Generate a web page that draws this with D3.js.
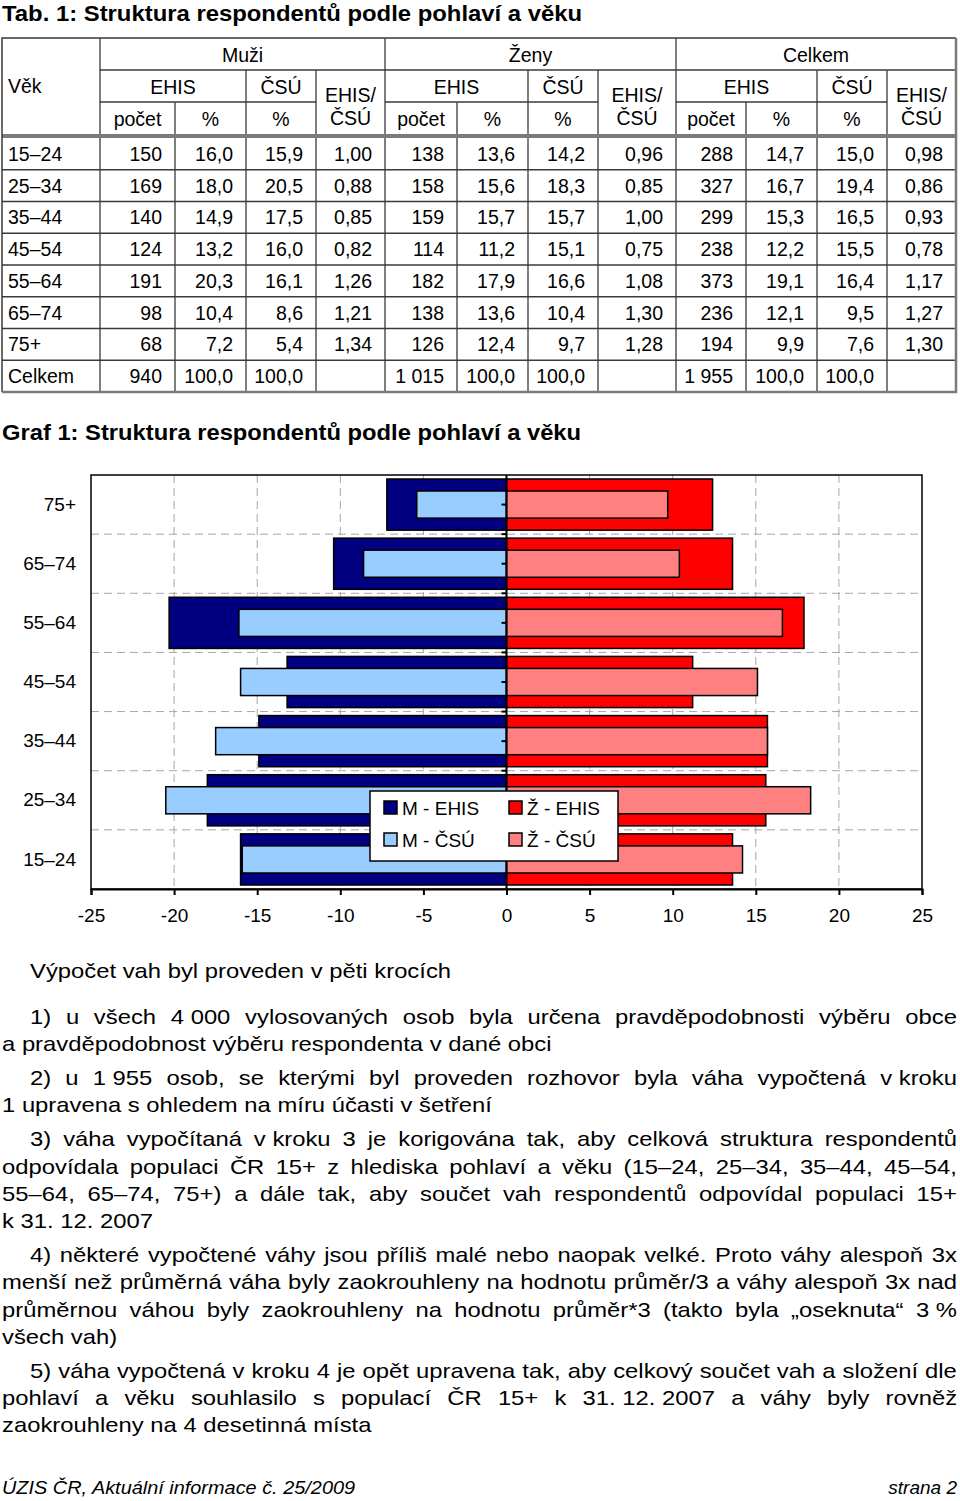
<!DOCTYPE html>
<html>
<head>
<meta charset="utf-8">
<script src="https://cdn.jsdelivr.net/npm/d3@7"></script>
<style>
body { margin: 0; background: #fff; font-family: "Liberation Sans", Arial, sans-serif; color: #000; }
#page { position: relative; width: 960px; height: 1501px; overflow: hidden; }
#page svg { position: absolute; left: 0; top: 0; }
.line { position: absolute; font-size: 21px; line-height: 28px; transform-origin: 0 0; white-space: normal; }
.full { text-align: justify; text-align-last: justify; }
.keep { display: inline-block; }
.foot { position: absolute; font-size: 19px; line-height: 22px; font-style: italic; transform-origin: 0 0; }
</style>
</head>
<body>
<div id="page"></div>
<script>
// age groups in table order
const ageGroups = ['15–24', '25–34', '35–44', '45–54', '55–64', '65–74', '75+'];

const muziPocet = [150, 169, 140, 124, 191, 98, 68];
const muziEhis = [16.0, 18.0, 14.9, 13.2, 20.3, 10.4, 7.2];
const muziCsu = [15.9, 20.5, 17.5, 16.0, 16.1, 8.6, 5.4];
const muziRatio = [1.00, 0.88, 0.85, 0.82, 1.26, 1.21, 1.34];

const zenyPocet = [138, 158, 159, 114, 182, 138, 126];
const zenyEhis = [13.6, 15.6, 15.7, 11.2, 17.9, 13.6, 12.4];
const zenyCsu = [14.2, 18.3, 15.7, 15.1, 16.6, 10.4, 9.7];
const zenyRatio = [0.96, 0.85, 1.00, 0.75, 1.08, 1.30, 1.28];

const celkemPocet = [288, 327, 299, 238, 373, 236, 194];
const celkemEhis = [14.7, 16.7, 15.3, 12.2, 19.1, 12.1, 9.9];
const celkemCsu = [15.0, 19.4, 16.5, 15.5, 16.4, 9.5, 7.6];
const celkemRatio = [0.98, 0.86, 0.93, 0.78, 1.17, 1.27, 1.30];

const totalPocet = ['940', '1 015', '1 955'];
const totalPct = '100,0';

const xTicks = [-25, -20, -15, -10, -5, 0, 5, 10, 15, 20, 25];

// "~" marks a space that must not stretch
const paragraphs = [
    ['1) u všech 4~000 vylosovaných osob byla určena pravděpodobnosti výběru obce',
     'a pravděpodobnost výběru respondenta v dané obci'],
    ['2) u 1~955 osob, se kterými byl proveden rozhovor byla váha vypočtená v~kroku',
     '1 upravena s ohledem na míru účasti v šetření'],
    ['3) váha vypočítaná v~kroku 3 je korigována tak, aby celková struktura respondentů',
     'odpovídala populaci ČR 15+ z hlediska pohlaví a věku (15–24, 25–34, 35–44, 45–54,',
     '55–64, 65–74, 75+) a dále tak, aby součet vah respondentů odpovídal populaci 15+',
     'k~31. 12. 2007'],
    ['4) některé vypočtené váhy jsou příliš malé nebo naopak velké. Proto váhy alespoň 3x',
     'menší než průměrná váha byly zaokrouhleny na hodnotu průměr/3 a váhy alespoň 3x nad',
     'průměrnou váhou byly zaokrouhleny na hodnotu průměr*3 (takto byla „oseknuta“ 3~%',
     'všech vah)'],
    ['5) váha vypočtená v kroku 4 je opět upravena tak, aby celkový součet vah a složení dle',
     'pohlaví a věku souhlasilo s populací ČR 15+ k 31.~12.~2007 a váhy byly rovněž',
     'zaokrouhleny na 4 desetinná místa']
];

const pct = v => v.toFixed(1).replace('.', ',');
const rat = v => v.toFixed(2).replace('.', ',');

const page = d3.select('#page');
const svg = page.append('svg').attr('width', 960).attr('height', 1501)
    .style('font-family', '"Liberation Sans", Arial, sans-serif');

// ---------- table ----------
svg.append('text').attr('transform', 'translate(2,21) scale(1.085,1)')
    .style('font-size', '22px').style('font-weight', 'bold')
    .text('Tab. 1: Struktura respondentů podle pohlaví a věku');

const colX = [2, 100, 175, 246, 316, 385, 457, 528, 598, 676, 746, 817, 887, 956];
const headTop = 38, head1 = 70, head2 = 102, headBottom = 136;
const rowTop = 138, rowH = 31.75;

const rows = ageGroups.map((a, i) => [a,
    muziPocet[i], pct(muziEhis[i]), pct(muziCsu[i]), rat(muziRatio[i]),
    zenyPocet[i], pct(zenyEhis[i]), pct(zenyCsu[i]), rat(zenyRatio[i]),
    celkemPocet[i], pct(celkemEhis[i]), pct(celkemCsu[i]), rat(celkemRatio[i])]);
rows.push(['Celkem',
    totalPocet[0], totalPct, totalPct, '',
    totalPocet[1], totalPct, totalPct, '',
    totalPocet[2], totalPct, totalPct, '']);

const tableBottom = rowTop + rows.length * rowH;
const tbl = svg.append('g').style('font-size', '19.5px');

// grid lines
const lines = [];
rows.forEach((r, i) => { if (i > 0) lines.push([colX[0], rowTop + i * rowH, colX[13], rowTop + i * rowH]); });
lines.push([colX[1], head1, colX[13], head1]);
[[1, 4], [5, 8], [9, 12]].forEach(([a, b]) => {
    lines.push([colX[a], head2, colX[b], head2]);
    lines.push([colX[a], headTop, colX[a], tableBottom]);
    lines.push([colX[a + 1], head2, colX[a + 1], tableBottom]);
    lines.push([colX[a + 2], head1, colX[a + 2], tableBottom]);
    lines.push([colX[a + 3], head1, colX[a + 3], tableBottom]);
});
tbl.selectAll('line.grid').data(lines).enter().append('line')
    .attr('x1', d => d[0]).attr('y1', d => d[1]).attr('x2', d => d[2]).attr('y2', d => d[3])
    .attr('stroke', '#3a3a3a').attr('stroke-width', 1.3);

tbl.append('line').attr('x1', colX[0]).attr('x2', colX[13]).attr('y1', headBottom).attr('y2', headBottom)
    .attr('stroke', '#7a7a7a').attr('stroke-width', 4);
tbl.append('path')
    .attr('d', `M${colX[0]},${tableBottom}V${headTop}H${colX[13]}`)
    .attr('fill', 'none').attr('stroke', '#3a3a3a').attr('stroke-width', 1.5);
tbl.append('path')
    .attr('d', `M${colX[13]},${headTop}V${tableBottom}H${colX[0]}`)
    .attr('fill', 'none').attr('stroke', '#7a7a7a').attr('stroke-width', 2.5);

// header texts
const mid = (a, b) => (colX[a] + colX[b]) / 2;
const head = [['Věk', 8, 93, 'start']];
[['Muži', 1], ['Ženy', 5], ['Celkem', 9]].forEach(([t, a]) => {
    head.push([t, mid(a, a + 4), 62, 'middle']);
    head.push(['EHIS', mid(a, a + 2), 94, 'middle']);
    head.push(['ČSÚ', mid(a + 2, a + 3), 94, 'middle']);
    head.push(['EHIS/', mid(a + 3, a + 4), 102, 'middle']);
    head.push(['ČSÚ', mid(a + 3, a + 4), 125, 'middle']);
    head.push(['počet', mid(a, a + 1), 126, 'middle']);
    head.push(['%', mid(a + 1, a + 2), 126, 'middle']);
    head.push(['%', mid(a + 2, a + 3), 126, 'middle']);
});
tbl.selectAll('text.head').data(head).enter().append('text')
    .attr('x', d => d[1]).attr('y', d => d[2]).attr('text-anchor', d => d[3]).text(d => d[0]);

// body cells
rows.forEach((r, i) => {
    const yb = rowTop + i * rowH + rowH / 2 + 7;
    tbl.selectAll(null).data(r).enter().append('text')
        .attr('x', (d, j) => j === 0 ? 8 : colX[j + 1] - 13)
        .attr('y', yb)
        .attr('text-anchor', (d, j) => j === 0 ? 'start' : 'end')
        .text(d => d);
});

// ---------- chart ----------
svg.append('text').attr('transform', 'translate(2,440) scale(1.08,1)')
    .style('font-size', '22px').style('font-weight', 'bold')
    .text('Graf 1: Struktura respondentů podle pohlaví a věku');

const plot = { left: 91, right: 922, top: 475, bottom: 889 };
const x = d3.scaleLinear().domain([-25, 25]).range([plot.left, plot.right]);
const cats = ageGroups.slice().reverse();
const y = d3.scaleBand().domain(cats).range([plot.top, plot.bottom]);
const yBar = d3.scaleBand().domain(cats).range([plot.top, plot.bottom])
    .paddingInner(0.135).paddingOuter(0.0675);
const thin = yBar.bandwidth() * 0.53;

const chart = svg.append('g');

// grid
chart.selectAll('line.vgrid').data(xTicks.filter(t => t !== 0 && Math.abs(t) !== 25)).enter()
    .append('line')
    .attr('x1', d => x(d)).attr('x2', d => x(d)).attr('y1', plot.top).attr('y2', plot.bottom)
    .attr('stroke', '#a6a6a6').attr('stroke-dasharray', '8,5');
chart.selectAll('line.hgrid').data(cats.slice(1)).enter().append('line')
    .attr('x1', plot.left).attr('x2', plot.right).attr('y1', d => y(d)).attr('y2', d => y(d))
    .attr('stroke', '#a6a6a6').attr('stroke-dasharray', '8,5');

const series = [
    { name: 'M - EHIS', values: muziEhis, sign: -1, color: '#000080', wide: true },
    { name: 'Ž - EHIS', values: zenyEhis, sign: 1, color: '#ff0000', wide: true },
    { name: 'M - ČSÚ', values: muziCsu, sign: -1, color: '#99ccff', wide: false },
    { name: 'Ž - ČSÚ', values: zenyCsu, sign: 1, color: '#ff8080', wide: false }
];

series.forEach(s => {
    chart.append('g').selectAll('rect')
        .data(ageGroups.map((a, i) => ({ age: a, v: s.values[i] * s.sign })))
        .enter().append('rect')
        .attr('x', d => Math.min(x(0), x(d.v)))
        .attr('width', d => Math.abs(x(d.v) - x(0)))
        .attr('y', d => s.wide ? yBar(d.age) : yBar(d.age) + (yBar.bandwidth() - thin) / 2)
        .attr('height', s.wide ? yBar.bandwidth() : thin)
        .attr('fill', s.color)
        .attr('stroke', '#000').attr('stroke-width', 1.5);
});

// plot frame
chart.append('rect').attr('x', plot.left).attr('y', plot.top)
    .attr('width', plot.right - plot.left).attr('height', plot.bottom - plot.top)
    .attr('fill', 'none').attr('stroke', '#000').attr('stroke-width', 1.5);

// zero axis with category ticks
chart.append('line').attr('x1', x(0)).attr('x2', x(0)).attr('y1', plot.top).attr('y2', plot.bottom)
    .attr('stroke', '#000').attr('stroke-width', 2);
const tickYs = cats.map(c => y(c) + y.bandwidth() / 2).concat(cats.slice(1).map(c => y(c)));
chart.selectAll('line.ytick').data(tickYs).enter().append('line')
    .attr('x1', x(0) - 5).attr('x2', x(0)).attr('y1', d => d).attr('y2', d => d)
    .attr('stroke', '#000').attr('stroke-width', 2);

// category labels
const yAxis = chart.append('g').attr('transform', `translate(${plot.left},0)`)
    .call(d3.axisLeft(y).tickSize(0).tickPadding(15));
yAxis.select('.domain').remove();
yAxis.selectAll('text').style('font-size', '19px').style('font-family', '"Liberation Sans", Arial, sans-serif').attr('fill', '#000');

// x axis
const xAxis = chart.append('g').attr('transform', `translate(0,${plot.bottom})`)
    .call(d3.axisBottom(x).tickValues(xTicks).tickSize(6).tickPadding(14).tickFormat(d => String(d)));
xAxis.select('.domain').attr('stroke', '#000').attr('stroke-width', 2);
xAxis.selectAll('line').attr('stroke', '#000').attr('stroke-width', 2);
xAxis.selectAll('text').style('font-size', '19px').style('font-family', '"Liberation Sans", Arial, sans-serif').attr('fill', '#000');

// legend
const lg = chart.append('g');
lg.append('rect').attr('x', 370).attr('y', 791).attr('width', 248).attr('height', 70)
    .attr('fill', '#fff').attr('stroke', '#000').attr('stroke-width', 1.5);
series.forEach((s, i) => {
    const lx = 384 + (i % 2) * 125;
    const ly = 808 + Math.floor(i / 2) * 32;
    lg.append('rect').attr('x', lx).attr('y', ly - 7).attr('width', 13).attr('height', 13)
        .attr('fill', s.color).attr('stroke', '#000').attr('stroke-width', 1.5);
    lg.append('text').attr('x', lx + 18).attr('y', ly + 7).style('font-size', '19px').text(s.name);
});

// ---------- text ----------
const stretch = 1.134;
const addLine = (text, left, baseline, full) => {
    const div = page.append('div').attr('class', 'line' + (full ? ' full' : ''))
        .style('left', left + 'px').style('width', ((957 - left) / stretch) + 'px')
        .style('top', (baseline - 21) + 'px')
        .style('transform', `scaleX(${stretch})`);
    text.split(' ').forEach((w, i) => {
        if (i > 0) div.append('span').text(' ');
        if (w.includes('~')) div.append('span').attr('class', 'keep').text(w.replace(/~/g, '\u00a0'));
        else div.append('span').text(w);
    });
};
addLine('Výpočet vah byl proveden v pěti krocích', 30, 978, false);
let base = 1024;
paragraphs.forEach(p => {
    p.forEach((t, i) => {
        addLine(t, i === 0 ? 30 : 2, base, i < p.length - 1);
        base += 27.3;
    });
    base += 33.8 - 27.3;
});

page.append('div').attr('class', 'foot').style('left', '2px').style('top', '1477px')
    .style('transform', 'scaleX(1.047)')
    .text('ÚZIS ČR, Aktuální informace č. 25/2009');
page.append('div').attr('class', 'foot').style('right', '3px').style('top', '1477px')
    .text('strana 2');
</script>
</body>
</html>
